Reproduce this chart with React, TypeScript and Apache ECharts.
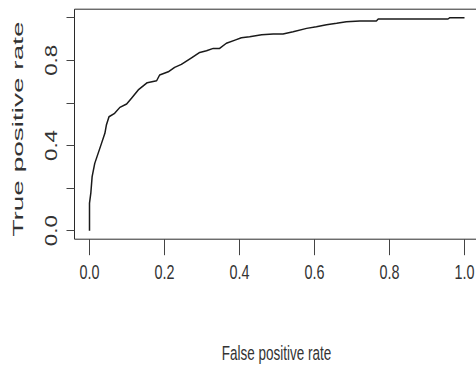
import React, { useEffect, useRef } from "react";
import * as echarts from "echarts";

const fpr = [0, 0, 0.0035, 0.007, 0.014, 0.023, 0.032, 0.041, 0.045, 0.052, 0.067, 0.081, 0.099, 0.112, 0.13, 0.154, 0.179, 0.187, 0.21, 0.227, 0.245, 0.272, 0.294, 0.312, 0.33, 0.347, 0.365, 0.388, 0.405, 0.427, 0.459, 0.49, 0.516, 0.543, 0.579, 0.605, 0.632, 0.659, 0.685, 0.721, 0.765, 0.77, 0.819, 0.956, 0.961, 1.0];
const tpr = [0, 0.129, 0.176, 0.254, 0.316, 0.363, 0.41, 0.457, 0.496, 0.535, 0.551, 0.579, 0.595, 0.622, 0.661, 0.695, 0.704, 0.731, 0.746, 0.767, 0.781, 0.812, 0.837, 0.845, 0.856, 0.856, 0.88, 0.895, 0.906, 0.911, 0.92, 0.924, 0.924, 0.934, 0.95, 0.958, 0.967, 0.974, 0.981, 0.985, 0.985, 0.994, 0.994, 0.994, 1.0, 1.0];

const xTicks = [0, 0.2, 0.4, 0.6, 0.8, 1.0];
const yTicks = [0, 0.2, 0.4, 0.6, 0.8, 1.0];
const yLabels = [0, 0.4, 0.8];
const xTitle = "False positive rate";
const yTitle = "True positive rate";

const FONT = "'Liberation Sans', Arial, sans-serif";

export default function App() {
  const ref = useRef<HTMLDivElement>(null);
  useEffect(() => {
    if (!ref.current) return;
    const chart = echarts.init(ref.current, null, { renderer: "svg" });
    const data = fpr.map((x, i) => [x, tpr[i]]);
    chart.setOption({
      animation: false,
      backgroundColor: "#ffffff",
      grid: {
        left: 74.5,
        top: 9.2,
        width: 405,
        height: 230,
        show: true,
        borderColor: "#2a2a2a",
        borderWidth: 1,
        backgroundColor: "transparent",
        outerBoundsMode: "none",
      },
      xAxis: {
        type: "value",
        min: -0.04,
        max: 1.04,
        axisLine: { show: false, onZero: false },
        axisTick: {
          show: true,
          customValues: xTicks,
          length: 16,
          lineStyle: { color: "#444", width: 1 },
        },
        axisLabel: { show: false },
        splitLine: { show: false },
      },
      yAxis: {
        type: "value",
        min: -0.04,
        max: 1.04,
        axisLine: { show: false, onZero: false },
        axisTick: {
          show: true,
          customValues: yTicks,
          length: 8,
          lineStyle: { color: "#444", width: 1 },
        },
        axisLabel: { show: false },
        splitLine: { show: false },
      },
      series: [
        {
          type: "line",
          data,
          showSymbol: false,
          symbol: "none",
          lineStyle: { color: "#1a1a1a", width: 1.5 },
          silent: true,
        },
      ],
    });

    const graphics: any[] = [];
    xTicks.forEach((v) => {
      const px = chart.convertToPixel({ xAxisIndex: 0 }, v) as number;
      graphics.push({
        type: "text",
        x: px,
        y: 272.5,
        scaleY: 1.45,
        style: {
          text: v.toFixed(1),
          font: "14.4px " + FONT,
          fill: "#333",
          textAlign: "center",
          textVerticalAlign: "middle",
        },
      });
    });
    yLabels.forEach((v) => {
      const py = chart.convertToPixel({ yAxisIndex: 0 }, v) as number;
      graphics.push({
        type: "text",
        x: 51,
        y: py,
        rotation: Math.PI / 2,
        scaleX: 1.4,
        style: {
          text: v.toFixed(1),
          font: "16px " + FONT,
          fill: "#333",
          textAlign: "center",
          textVerticalAlign: "middle",
        },
      });
    });
    graphics.push({
      type: "text",
      x: 276.5,
      y: 353,
      scaleY: 1.5,
      style: {
        text: xTitle,
        font: "13.5px " + FONT,
        fill: "#333",
        textAlign: "center",
        textVerticalAlign: "middle",
      },
    });
    graphics.push({
      type: "text",
      x: 18,
      y: 129,
      rotation: Math.PI / 2,
      scaleX: 2.0,
      style: {
        text: yTitle,
        font: "14px " + FONT,
        fill: "#333",
        textAlign: "center",
        textVerticalAlign: "middle",
      },
    });
    chart.setOption({ graphic: graphics });

    return () => chart.dispose();
  }, []);
  return (
    <div
      ref={ref}
      style={{ position: "fixed", left: 0, top: 0, width: 476, height: 369, background: "#fff" }}
    />
  );
}
